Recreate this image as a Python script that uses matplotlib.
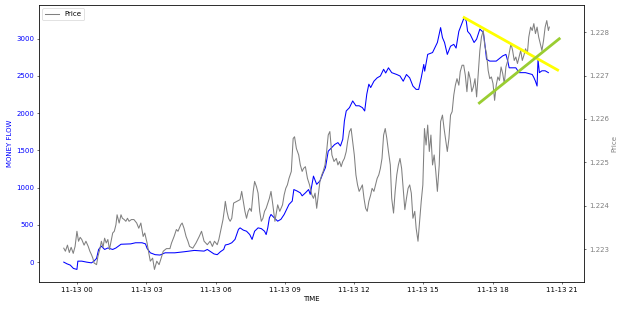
import numpy as np
import pandas as pd
import matplotlib
matplotlib.use('Agg')
import matplotlib.pyplot as plt
import matplotlib.dates as mdates

# hours after 2020-11-13 00:00
mf_hours = [-0.58, -0.44, -0.30, -0.16, -0.01, 0.03, 0.20, 0.41, 0.62, 0.73,
            0.84, 0.93, 1.05, 1.19, 1.33, 1.54, 1.68, 1.90, 2.32, 2.53,
            2.81, 2.96, 3.03, 3.17, 3.38, 3.59, 3.81, 4.23, 4.66, 5.08,
            5.50, 5.64, 5.93, 6.07, 6.21, 6.35, 6.42, 6.56, 6.70, 6.84,
            6.99, 7.06, 7.20, 7.34, 7.48, 7.58, 7.69, 7.84, 7.98, 8.12,
            8.19, 8.26, 8.33, 8.40, 8.54, 8.69, 8.83, 8.97, 9.11, 9.18,
            9.32, 9.39, 9.53, 9.67, 9.75, 9.89, 10.03, 10.10, 10.24, 10.38,
            10.52, 10.66, 10.76, 10.88, 11.02, 11.16, 11.30, 11.41, 11.51, 11.58,
            11.66, 11.80, 11.94, 12.08, 12.22, 12.36, 12.46, 12.55, 12.64, 12.72,
            12.86, 13.00, 13.14, 13.28, 13.37, 13.49, 13.63, 13.85, 13.99, 14.13,
            14.27, 14.41, 14.55, 14.69, 14.80, 14.91, 15.02, 15.06, 15.19, 15.40,
            15.61, 15.75, 15.83, 15.92, 16.04, 16.18, 16.32, 16.42, 16.54, 16.68,
            16.77, 16.86, 16.92, 17.03, 17.20, 17.31, 17.45, 17.60, 17.66, 17.74,
            17.88, 18.16, 18.44, 18.58, 18.66, 18.72, 19.01, 19.15, 19.43, 19.72,
            19.79, 19.86, 19.93, 19.97, 20.03, 20.14, 20.28, 20.42]
mf_values = [0, -23, -40, -85, -98, 13, 13, 0, -10, 13,
             50, 170, 215, 170, 190, 170, 190, 240, 245, 260,
             260, 245, 185, 125, 100, 95, 125, 125, 140, 157,
             148, 170, 110, 100, 140, 170, 230, 240, 260, 305,
             440, 460, 430, 415, 370, 305, 415, 460, 450, 415,
             370, 460, 595, 640, 595, 550, 575, 640, 730, 775,
             820, 975, 955, 930, 890, 930, 975, 910, 1155, 1045,
             1090, 1200, 1270, 1490, 1535, 1580, 1605, 1560, 1650, 1895,
             2030, 2075, 2165, 2100, 2100, 2075, 2030, 2255, 2390, 2345,
             2430, 2475, 2500, 2590, 2540, 2610, 2545, 2520, 2500, 2430,
             2520, 2475, 2365, 2320, 2320, 2475, 2655, 2565, 2790, 2815,
             2950, 3150, 3015, 2950, 2790, 2900, 2925, 2875, 3100, 3215,
             3285, 3240, 3100, 3060, 2950, 2995, 3130, 3085, 2950, 2725,
             2700, 2700, 2770, 2790, 2700, 2610, 2610, 2545, 2545, 2520,
             2480, 2430, 2365, 2725, 2545, 2570, 2570, 2545]

price_hours = [-0.58, -0.51, -0.42, -0.34, -0.26, -0.17, -0.09, -0.01, 0.06, 0.13,
               0.20, 0.30, 0.38, 0.48, 0.55, 0.62, 0.68, 0.73, 0.84, 0.90,
               0.98, 1.05, 1.12, 1.19, 1.26, 1.33, 1.40, 1.47, 1.54, 1.61,
               1.68, 1.73, 1.82, 1.90, 1.96, 2.04, 2.11, 2.18, 2.25, 2.35,
               2.46, 2.58, 2.67, 2.76, 2.86, 2.93, 3.03, 3.10, 3.17, 3.27,
               3.35, 3.45, 3.55, 3.64, 3.73, 3.87, 4.02, 4.09, 4.20, 4.30,
               4.37, 4.49, 4.55, 4.63, 4.72, 4.80, 4.87, 5.01, 5.15, 5.29,
               5.39, 5.50, 5.64, 5.76, 5.86, 5.95, 6.07, 6.14, 6.24, 6.32,
               6.38, 6.42, 6.49, 6.56, 6.63, 6.70, 6.78, 6.92, 7.06, 7.13,
               7.20, 7.27, 7.34, 7.41, 7.48, 7.55, 7.63, 7.69, 7.77, 7.84,
               7.91, 7.98, 8.05, 8.12, 8.19, 8.33, 8.40, 8.47, 8.57, 8.69,
               8.78, 8.90, 8.97, 9.04, 9.11, 9.18, 9.28, 9.36, 9.42, 9.50,
               9.60, 9.67, 9.75, 9.81, 9.89, 9.98, 10.07, 10.17, 10.24, 10.31,
               10.38, 10.45, 10.52, 10.60, 10.66, 10.74, 10.81, 10.88, 10.95, 10.99,
               11.04, 11.13, 11.23, 11.30, 11.37, 11.44, 11.51, 11.58, 11.66, 11.72,
               11.80, 11.87, 11.94, 12.01, 12.08, 12.15, 12.22, 12.29, 12.36, 12.43,
               12.50, 12.57, 12.64, 12.72, 12.78, 12.86, 12.93, 13.00, 13.07, 13.14,
               13.21, 13.28, 13.35, 13.42, 13.49, 13.57, 13.63, 13.71, 13.78, 13.85,
               13.92, 13.99, 14.06, 14.13, 14.20, 14.27, 14.34, 14.41, 14.48, 14.55,
               14.63, 14.69, 14.77, 14.84, 14.91, 14.98, 15.05, 15.12, 15.19, 15.26,
               15.33, 15.40, 15.47, 15.54, 15.61, 15.69, 15.75, 15.83, 15.90, 16.04,
               16.11, 16.18, 16.25, 16.32, 16.39, 16.46, 16.54, 16.60, 16.68, 16.75,
               16.82, 16.89, 16.96, 17.03, 17.10, 17.17, 17.24, 17.31, 17.38, 17.45,
               17.52, 17.60, 17.66, 17.74, 17.81, 17.88, 17.95, 18.02, 18.09, 18.16,
               18.23, 18.30, 18.37, 18.44, 18.51, 18.58, 18.66, 18.72, 18.80, 18.87,
               18.94, 19.01, 19.08, 19.15, 19.22, 19.29, 19.36, 19.43, 19.51, 19.57,
               19.65, 19.72, 19.79, 19.86, 19.93, 20.00, 20.07, 20.14, 20.21, 20.28,
               20.35, 20.42, 20.46]
price_values = [1.22302, 1.22295, 1.22309, 1.22292, 1.22304, 1.22290, 1.22306, 1.22341, 1.22318, 1.22327,
                1.22322, 1.22309, 1.22318, 1.22306, 1.22295, 1.22287, 1.22279, 1.22268, 1.22264, 1.22283,
                1.22299, 1.22318, 1.22304, 1.22325, 1.22314, 1.22322, 1.22299, 1.22318, 1.22337, 1.22341,
                1.22356, 1.22379, 1.22360, 1.22379, 1.22371, 1.22368, 1.22364, 1.22371, 1.22364, 1.22368,
                1.22368, 1.22360, 1.22348, 1.22360, 1.22329, 1.22337, 1.22314, 1.22292, 1.22272, 1.22279,
                1.22253, 1.22272, 1.22264, 1.22279, 1.22295, 1.22301, 1.22301, 1.22314, 1.22329, 1.22345,
                1.22341, 1.22356, 1.22360, 1.22348, 1.22329, 1.22318, 1.22306, 1.22302, 1.22314, 1.22329,
                1.22341, 1.22318, 1.22310, 1.22318, 1.22306, 1.22318, 1.22310, 1.22322, 1.22348, 1.22368,
                1.22391, 1.22410, 1.22387, 1.22371, 1.22364, 1.22371, 1.22406, 1.22410, 1.22414, 1.22433,
                1.22410, 1.22387, 1.22371, 1.22387, 1.22394, 1.22387, 1.22433, 1.22456, 1.22444, 1.22429,
                1.22387, 1.22364, 1.22371, 1.22387, 1.22394, 1.22417, 1.22433, 1.22406, 1.22364, 1.22402,
                1.22387, 1.22402, 1.22425, 1.22440, 1.22448, 1.22463, 1.22479, 1.22555, 1.22559, 1.22532,
                1.22517, 1.22494, 1.22479, 1.22486, 1.22490, 1.22463, 1.22448, 1.22425, 1.22417, 1.22429,
                1.22394, 1.22425, 1.22456, 1.22471, 1.22479, 1.22494, 1.22525, 1.22563, 1.22571, 1.22548,
                1.22517, 1.22502, 1.22509, 1.22494, 1.22502, 1.22490, 1.22502, 1.22509, 1.22525, 1.22548,
                1.22571, 1.22578, 1.22548, 1.22517, 1.22471, 1.22448, 1.22433, 1.22440, 1.22448, 1.22417,
                1.22394, 1.22387, 1.22410, 1.22425, 1.22440, 1.22433, 1.22448, 1.22463, 1.22471, 1.22486,
                1.22509, 1.22563, 1.22578, 1.22555, 1.22525, 1.22494, 1.22417, 1.22383, 1.22433, 1.22471,
                1.22494, 1.22509, 1.22486, 1.22440, 1.22391, 1.22417, 1.22440, 1.22448, 1.22429, 1.22371,
                1.22387, 1.22348, 1.22318, 1.22364, 1.22410, 1.22448, 1.22578, 1.22540, 1.22586, 1.22525,
                1.22563, 1.22494, 1.22517, 1.22479, 1.22433, 1.22494, 1.22594, 1.22609, 1.22578, 1.22525,
                1.22555, 1.22609, 1.22617, 1.22655, 1.22678, 1.22693, 1.22678, 1.22709, 1.22724, 1.22724,
                1.22701, 1.22663, 1.22709, 1.22693, 1.22663, 1.22674, 1.22693, 1.22651, 1.22705, 1.22758,
                1.22789, 1.22804, 1.22770, 1.22751, 1.22712, 1.22693, 1.22697, 1.22682, 1.22643, 1.22678,
                1.22697, 1.22689, 1.22720, 1.22705, 1.22682, 1.22720, 1.22735, 1.22751, 1.22774, 1.22758,
                1.22735, 1.22743, 1.22728, 1.22743, 1.22758, 1.22735, 1.22747, 1.22762, 1.22751, 1.22789,
                1.22812, 1.22804, 1.22820, 1.22797, 1.22812, 1.22789, 1.22774, 1.22758, 1.22781, 1.22812,
                1.22827, 1.22804, 1.22812]

# trend lines drawn on the price axis: (start hour, end hour), (start price, end price)
upper_hours = [16.77, 20.82]
upper_prices = [1.22834, 1.22713]
lower_hours = [17.43, 20.89]
lower_prices = [1.22637, 1.22785]

base = pd.Timestamp('2020-11-13 00:00')
mf_time = base + pd.to_timedelta(mf_hours, unit='h')
price_time = base + pd.to_timedelta(price_hours, unit='h')
upper_time = base + pd.to_timedelta(upper_hours, unit='h')
lower_time = base + pd.to_timedelta(lower_hours, unit='h')

fig, ax1 = plt.subplots(figsize=(12.5, 6.2), dpi=50)
fig.subplots_adjust(left=0.0624, right=0.9344, top=0.984, bottom=0.0903)

ax1.plot(mf_time, mf_values, color='blue')
ax1.set_xlabel('TIME')
ax1.set_ylabel('MONEY FLOW', color='blue')
ax1.tick_params(axis='y', labelcolor='blue')

ax2 = ax1.twinx()
ax2.plot(price_time, price_values, color='gray', label='Price')
ax2.set_ylabel('Price', color='gray')
ax2.tick_params(axis='y', labelcolor='gray')
ax2.ticklabel_format(axis='y', useOffset=False)

ax2.plot(upper_time, upper_prices, color='yellow', linewidth=4, scalex=False, scaley=False)
ax2.plot(lower_time, lower_prices, color='yellowgreen', linewidth=4, scalex=False, scaley=False)

ax1.xaxis.set_major_locator(mdates.HourLocator(byhour=range(0, 24, 3)))
ax1.xaxis.set_major_formatter(mdates.DateFormatter('%m-%d %H'))

ax2.legend(loc='upper left')

plt.savefig('out.png', dpi=50)
